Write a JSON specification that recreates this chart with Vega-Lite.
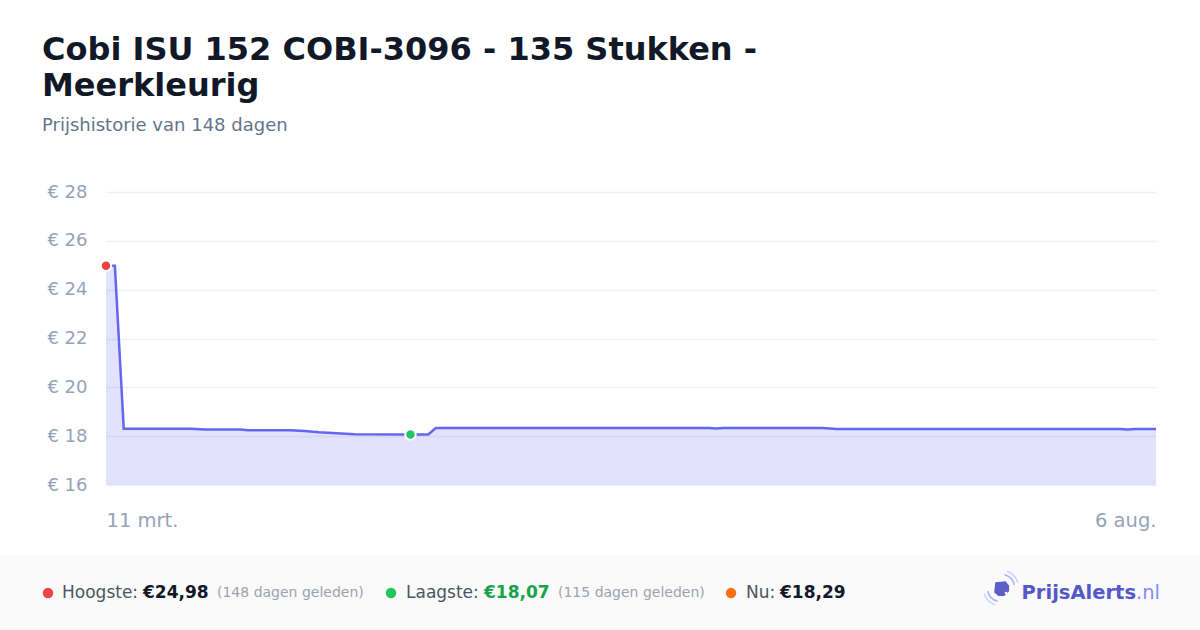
{
  "$schema": "https://vega.github.io/schema/vega-lite/v6.json",
  "autosize": {"type": "none"},
  "width": 1050,
  "height": 293,
  "padding": {"left": 106, "top": 192, "right": 44, "bottom": 145},
  "background": "#ffffff",
  "config": {
    "font": "DejaVu Sans",
    "view": {"stroke": null},
    "locale": {
      "time": {
        "dateTime": "%a %e %B %Y %X",
        "date": "%d-%m-%Y",
        "time": "%H:%M:%S",
        "periods": ["AM", "PM"],
        "days": ["zondag", "maandag", "dinsdag", "woensdag", "donderdag", "vrijdag", "zaterdag"],
        "shortDays": ["zo", "ma", "di", "wo", "do", "vr", "za"],
        "months": ["januari", "februari", "maart", "april", "mei", "juni", "juli", "augustus", "september", "oktober", "november", "december"],
        "shortMonths": ["jan", "feb", "mrt", "apr", "mei", "jun", "jul", "aug", "sep", "okt", "nov", "dec"]
      }
    }
  },
  "title": {
    "text": ["Cobi ISU 152 COBI-3096 - 135 Stukken -", "Meerkleurig"],
    "subtitle": "Prijshistorie van 148 dagen",
    "anchor": "start",
    "frame": "group",
    "dx": -64,
    "offset": 47,
    "font": "DejaVu Sans",
    "fontSize": 32,
    "fontWeight": "bold",
    "lineHeight": 36,
    "color": "#111827",
    "subtitleFont": "DejaVu Sans",
    "subtitleFontSize": 18,
    "subtitleColor": "#64748b",
    "subtitlePadding": 14
  },
  "datasets": {
    "prices": [
      {"date": "2025-03-11T00:00:00", "price": 24.98},
      {"date": "2025-03-12T06:00:00", "price": 24.98},
      {"date": "2025-03-13T12:00:00", "price": 18.30},
      {"date": "2025-03-23T00:00:00", "price": 18.30},
      {"date": "2025-03-25T00:00:00", "price": 18.27},
      {"date": "2025-03-30T00:00:00", "price": 18.27},
      {"date": "2025-03-31T00:00:00", "price": 18.24},
      {"date": "2025-04-06T00:00:00", "price": 18.24},
      {"date": "2025-04-08T00:00:00", "price": 18.21},
      {"date": "2025-04-10T00:00:00", "price": 18.16},
      {"date": "2025-04-15T00:00:00", "price": 18.08},
      {"date": "2025-04-22T22:00:00", "price": 18.07},
      {"date": "2025-04-25T10:00:00", "price": 18.07},
      {"date": "2025-04-26T12:00:00", "price": 18.33},
      {"date": "2025-06-04T00:00:00", "price": 18.33},
      {"date": "2025-06-05T00:00:00", "price": 18.31},
      {"date": "2025-06-06T00:00:00", "price": 18.33},
      {"date": "2025-06-20T00:00:00", "price": 18.33},
      {"date": "2025-06-22T00:00:00", "price": 18.29},
      {"date": "2025-08-01T00:00:00", "price": 18.29},
      {"date": "2025-08-02T00:00:00", "price": 18.27},
      {"date": "2025-08-03T00:00:00", "price": 18.29},
      {"date": "2025-08-06T00:00:00", "price": 18.29}
    ],
    "extremes": [
      {"date": "2025-03-11T00:00:00", "price": 24.98, "kind": "Hoogste"},
      {"date": "2025-04-22T22:00:00", "price": 18.07, "kind": "Laagste"}
    ],
    "one": [{}]
  },
  "layer": [
    {
      "data": {"name": "prices"},
      "mark": {
        "type": "area",
        "color": "#6366f1",
        "fillOpacity": 0.19,
        "line": {"color": "#6366f1", "strokeWidth": 2.5}
      },
      "encoding": {
        "x": {
          "field": "date",
          "type": "temporal",
          "scale": {"domain": [{"year": 2025, "month": "mar", "date": 11}, {"year": 2025, "month": "aug", "date": 6}]},
          "axis": {
            "title": null,
            "values": [{"year": 2025, "month": "mar", "date": 11}, {"year": 2025, "month": "aug", "date": 6}],
            "format": "%-d %b.",
            "labelFlush": true,
            "labelFontSize": 19.5,
            "labelColor": "#94a3b8",
            "labelPadding": 26,
            "domain": false,
            "ticks": false,
            "grid": false
          }
        },
        "y": {
          "field": "price",
          "type": "quantitative",
          "scale": {"domain": [16, 28], "zero": false, "nice": false},
          "axis": {
            "title": null,
            "values": [16, 18, 20, 22, 24, 26, 28],
            "labelExpr": "'€ ' + datum.value",
            "labelFontSize": 18,
            "labelColor": "#94a3b8",
            "labelPadding": 19,
            "domain": false,
            "ticks": false,
            "grid": true,
            "gridColor": "#eef0f3",
            "gridWidth": 1.5
          }
        },
        "y2": {"datum": 16}
      }
    },
    {
      "data": {"name": "extremes"},
      "mark": {"type": "point", "filled": true, "size": 110, "stroke": "#ffffff", "strokeWidth": 2, "opacity": 1},
      "encoding": {
        "x": {"field": "date", "type": "temporal"},
        "y": {"field": "price", "type": "quantitative"},
        "fill": {
          "field": "kind",
          "type": "nominal",
          "scale": {"domain": ["Hoogste", "Laagste"], "range": ["#ef4444", "#22c55e"]},
          "legend": null
        }
      }
    },
    {
      "data": {"name": "one"},
      "mark": {"type": "rect", "x": -106, "x2": 1094, "y": 363, "y2": 438, "fill": "#fafafa"},
      "encoding": {}
    },
    {
      "data": {"name": "one"},
      "mark": {"type": "rule", "x": -106, "x2": 1094, "y": 363, "y2": 363, "stroke": "#f0f0f2", "strokeWidth": 1},
      "encoding": {}
    },
    {
      "data": {"name": "one"},
      "mark": {"type": "point", "shape": "circle", "filled": true, "x": -58, "y": 401, "size": 110, "fill": "#ef4444", "opacity": 1},
      "encoding": {}
    },
    {
      "data": {"name": "one"},
      "mark": {"type": "text", "text": "Hoogste:", "x": -44, "y": 401, "align": "left", "baseline": "middle", "fontSize": 17, "color": "#4b5563"},
      "encoding": {}
    },
    {
      "data": {"name": "one"},
      "mark": {"type": "text", "text": "€24,98", "x": 37, "y": 401, "align": "left", "baseline": "middle", "fontSize": 17, "fontWeight": "bold", "color": "#111827"},
      "encoding": {}
    },
    {
      "data": {"name": "one"},
      "mark": {"type": "text", "text": "(148 dagen geleden)", "x": 111, "y": 401, "align": "left", "baseline": "middle", "fontSize": 14, "color": "#9ca3af"},
      "encoding": {}
    },
    {
      "data": {"name": "one"},
      "mark": {"type": "point", "shape": "circle", "filled": true, "x": 285, "y": 401, "size": 110, "fill": "#22c55e", "opacity": 1},
      "encoding": {}
    },
    {
      "data": {"name": "one"},
      "mark": {"type": "text", "text": "Laagste:", "x": 300, "y": 401, "align": "left", "baseline": "middle", "fontSize": 17, "color": "#4b5563"},
      "encoding": {}
    },
    {
      "data": {"name": "one"},
      "mark": {"type": "text", "text": "€18,07", "x": 378, "y": 401, "align": "left", "baseline": "middle", "fontSize": 17, "fontWeight": "bold", "color": "#16a34a"},
      "encoding": {}
    },
    {
      "data": {"name": "one"},
      "mark": {"type": "text", "text": "(115 dagen geleden)", "x": 452, "y": 401, "align": "left", "baseline": "middle", "fontSize": 14, "color": "#9ca3af"},
      "encoding": {}
    },
    {
      "data": {"name": "one"},
      "mark": {"type": "point", "shape": "circle", "filled": true, "x": 625, "y": 401, "size": 110, "fill": "#f97316", "opacity": 1},
      "encoding": {}
    },
    {
      "data": {"name": "one"},
      "mark": {"type": "text", "text": "Nu:", "x": 640, "y": 401, "align": "left", "baseline": "middle", "fontSize": 17, "color": "#4b5563"},
      "encoding": {}
    },
    {
      "data": {"name": "one"},
      "mark": {"type": "text", "text": "€18,29", "x": 674, "y": 401, "align": "left", "baseline": "middle", "fontSize": 17, "fontWeight": "bold", "color": "#111827"},
      "encoding": {}
    },
    {
      "data": {"name": "one"},
      "mark": {"type": "arc", "x": 895, "y": 396, "innerRadius": 13, "outerRadius": 14.5, "theta": 0.25, "theta2": 1.35, "fill": "#a5b4fc"},
      "encoding": {}
    },
    {
      "data": {"name": "one"},
      "mark": {"type": "arc", "x": 895, "y": 396, "innerRadius": 17, "outerRadius": 18.5, "theta": 0.35, "theta2": 1.25, "fill": "#c7d2fe"},
      "encoding": {}
    },
    {
      "data": {"name": "one"},
      "mark": {"type": "arc", "x": 895, "y": 396, "innerRadius": 13, "outerRadius": 14.5, "theta": 3.39, "theta2": 4.49, "fill": "#a5b4fc"},
      "encoding": {}
    },
    {
      "data": {"name": "one"},
      "mark": {"type": "arc", "x": 895, "y": 396, "innerRadius": 17, "outerRadius": 18.5, "theta": 3.49, "theta2": 4.39, "fill": "#c7d2fe"},
      "encoding": {}
    },
    {
      "data": {"name": "one"},
      "mark": {"type": "point", "shape": "M -0.707 -0.707 L 0.566 -0.849 L 1.0 -0.3 L 1.0 0.4 L 0.4 1.0 L -0.3 1.0 L -0.849 0.566 Z", "filled": true, "x": 895, "y": 396, "size": 260, "fill": "#5b5fc7", "opacity": 1},
      "encoding": {}
    },
    {
      "data": {"name": "one"},
      "mark": {"type": "point", "shape": "circle", "filled": true, "x": 900, "y": 401, "size": 7, "fill": "#ffffff", "opacity": 1},
      "encoding": {}
    },
    {
      "data": {"name": "one"},
      "mark": {"type": "text", "text": "PrijsAlerts", "x": 1030, "y": 401, "align": "right", "baseline": "middle", "fontSize": 19.5, "fontWeight": "bold", "color": "#5558c8"},
      "encoding": {}
    },
    {
      "data": {"name": "one"},
      "mark": {"type": "text", "text": ".nl", "x": 1030, "y": 401, "align": "left", "baseline": "middle", "fontSize": 19.5, "color": "#818cf8"},
      "encoding": {}
    }
  ]
}
